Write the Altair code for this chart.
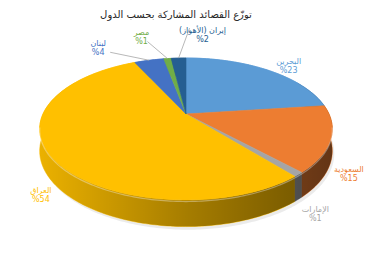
import numpy as np
import pandas as pd
import altair as alt

# ---- data ----
countries = ["البحرين", "السعودية", "الإمارات", "العراق", "لبنان", "مصر", "إيران (الأهواز)"]
shares = [23, 15, 1, 54, 4, 1, 2]
palette = ["#5B9BD5", "#ED7D31", "#A5A5A5", "#FFC000", "#4472C4", "#70AD47", "#255E91"]
title_text = "توزّع القصائد المشاركة بحسب الدول"

# ---- layout of the tilted 3-D pie (geometry, not data) ----
CX, CY = 186.0, 114.0
RX, RY = 143.0, 67.8
PERSP = 0.211
DEPTH = 21.0

label_dx = [21, 18, 17, -9, -51, -26, 24]
label_dy = [-8.5, 31, 35.5, 36.5, -16, -26, -27]
leader_on = [False, False, False, False, True, True, True]
leader_sx = [0, 0, 0, 0, 12, 6, -13]
leader_sy = [0, 0, 0, 0, 8, 9, -3]


def proj(theta, drop=0.0):
    t = np.radians(theta)
    X, Z = np.sin(t), np.cos(t)
    f = 1.0 / (1.0 + PERSP * Z)
    return CX + RX * X * f, CY - RY * Z * f + DEPTH * drop * f


total = float(sum(shares))
bounds = np.concatenate([[0.0], np.cumsum(shares)]) / total * 360.0

top_rows, side_rows, label_rows, leader_rows = [], [], [], []
for k, name in enumerate(countries):
    a0, a1 = bounds[k], bounds[k + 1]
    n = max(3, int(np.ceil(a1 - a0)) + 2)
    th = np.linspace(a0, a1, n)
    xs, ys = proj(th)
    pts = [(CX, CY)] + list(zip(xs, ys)) + [(CX, CY)]
    for i, (x, y) in enumerate(pts):
        top_rows.append(dict(slice=name, i=i, x=x, y=y))
    xb, yb = proj(th[::-1], 1.0)
    pts = list(zip(xs, ys)) + list(zip(xb, yb))
    for i, (x, y) in enumerate(pts):
        side_rows.append(dict(slice=name, i=i, x=x, y=y))
    mid = 0.5 * (a0 + a1)
    ex, ey = proj(mid)
    lx, ly = ex + label_dx[k], ey + label_dy[k]
    label_rows.append(dict(slice=name, x=lx, y=ly, text=f"{name}\n%{shares[k]}"))
    if leader_on[k]:
        leader_rows.append(dict(slice=name, x=lx + leader_sx[k], y=ly + leader_sy[k], x2=ex, y2=ey))

# side shading overlay and drop shadow
th = np.linspace(60, 300, 241)
xt, yt = proj(th)
xb, yb = proj(th[::-1], 1.0)
shade_df = pd.DataFrame(dict(i=range(2 * len(th)), x=np.concatenate([xt, xb]), y=np.concatenate([yt, yb])))
thf = np.linspace(0, 360, 361)
xs_, ys_ = proj(thf, 1.12)
shadow_df = pd.DataFrame(dict(i=range(len(thf)), x=xs_ + 2, y=ys_))
thh = np.linspace(100, 260, 161)
xh, yh = proj(thh, 0.06)
hl_df = pd.DataFrame(dict(i=range(len(thh)), x=xh, y=yh))

top_df = pd.DataFrame(top_rows)
side_df = pd.DataFrame(side_rows)
label_df = pd.DataFrame(label_rows)
leader_df = pd.DataFrame(leader_rows)

xs = alt.Scale(domain=[0, 376])
ysc = alt.Scale(domain=[260, 20])
X = alt.X("x:Q", scale=xs, axis=None)
Y = alt.Y("y:Q", scale=ysc, axis=None)
cscale = alt.Scale(domain=countries, range=palette)

shadow = alt.Chart(shadow_df).mark_line(fill="#000000", fillOpacity=0.08, strokeOpacity=0).encode(
    x=X, y=Y, order="i:Q")

sides = alt.Chart(side_df).mark_line(strokeWidth=0.6).encode(
    x=X, y=Y, order="i:Q", detail="slice:N",
    fill=alt.Fill("slice:N", scale=cscale, legend=None),
    stroke=alt.Stroke("slice:N", scale=cscale, legend=None))

grad = alt.Gradient(
    gradient="linear", x1=0, x2=1, y1=0, y2=0,
    stops=[alt.GradientStop(color="rgba(0,0,0,0.08)", offset=0),
           alt.GradientStop(color="rgba(0,0,0,0.35)", offset=0.5),
           alt.GradientStop(color="rgba(0,0,0,0.58)", offset=1)])
shade = alt.Chart(shade_df).mark_line(fill=grad, strokeOpacity=0).encode(x=X, y=Y, order="i:Q")

tops = alt.Chart(top_df).mark_line(strokeWidth=0.6).encode(
    x=X, y=Y, order="i:Q", detail="slice:N",
    fill=alt.Fill("slice:N", scale=cscale, legend=None),
    stroke=alt.Stroke("slice:N", scale=cscale, legend=None))

highlight = alt.Chart(hl_df).mark_line(stroke="#FFFFFF", strokeOpacity=0.35, strokeWidth=1.2).encode(
    x=X, y=Y, order="i:Q")

leaders = alt.Chart(leader_df).mark_rule(color="#A6A6A6", strokeWidth=0.8).encode(
    x=X, y=Y, x2="x2:Q", y2="y2:Q")

labels = alt.Chart(label_df).mark_text(
    fontSize=8, font="DejaVu Sans", lineBreak="\n", lineHeight=9, align="center", baseline="middle"
).encode(x=X, y=Y, text="text:N", color=alt.Color("slice:N", scale=cscale, legend=None))

chart = alt.layer(shadow, sides, shade, tops, highlight, leaders, labels).properties(
    width=376, height=240,
    autosize="none",
    padding={"left": 0, "right": 0, "top": 20, "bottom": 0},
    title=alt.Title(title_text, fontSize=10, font="DejaVu Sans", fontWeight="normal",
                    color="#262626", offset=0, dx=-12),
).configure_view(stroke=None)

chart.save("out.html", embed_options={"renderer": "svg", "actions": False})
